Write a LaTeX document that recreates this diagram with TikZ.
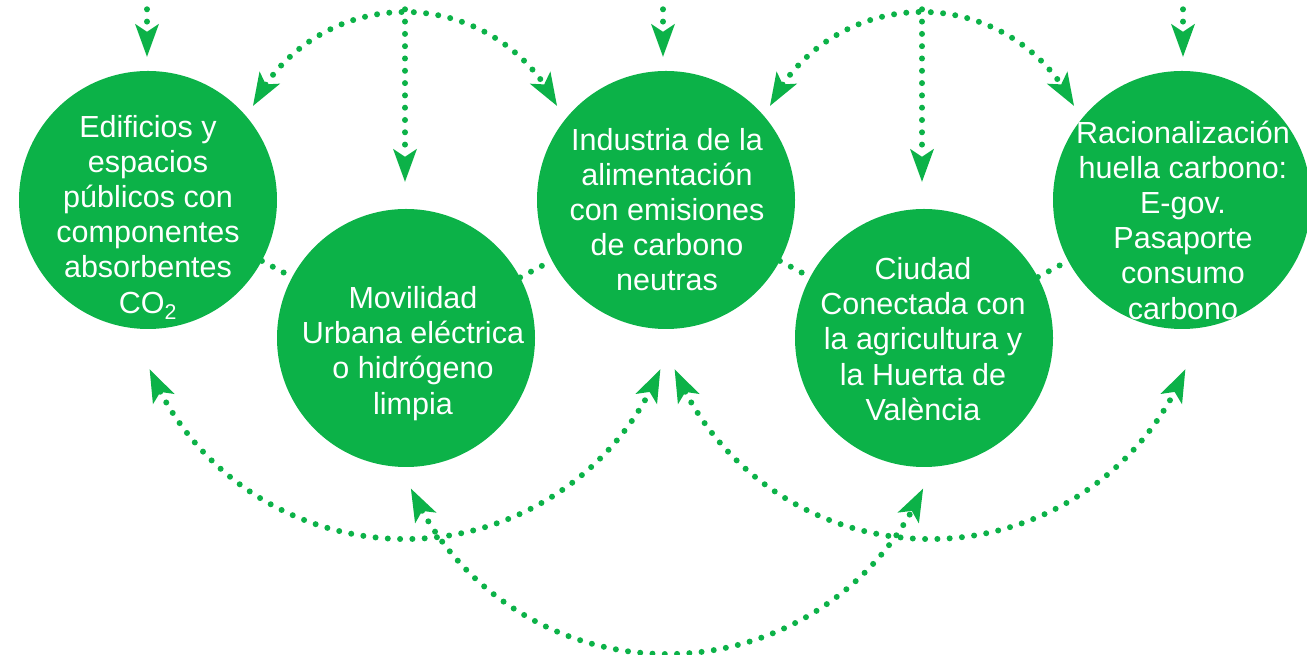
\documentclass[tikz,border=0pt]{standalone}
\usepackage{fontspec}
\setmainfont{Liberation Sans}
\usetikzlibrary{arrows.meta,bending}
\definecolor{vg}{RGB}{12,178,72}
\begin{document}
\begin{tikzpicture}[x=1pt,y=1pt,
  bub/.style={circle, fill=vg, minimum size=258pt, inner sep=0pt},
  lbl/.style={text=white, align=center, inner sep=0pt, anchor=north, font=\fontsize{30.5}{35.2}\selectfont},
  dotl/.style={draw=vg, line width=6pt, line cap=round, dash pattern=on 0pt off 12.3pt},
  tip/.style={-{Stealth[length=33pt,width=24pt,inset=8pt,line width=0pt]}},
  tips/.style={{Stealth[length=33pt,width=24pt,inset=8pt,line width=0pt]}-{Stealth[length=33pt,width=24pt,inset=8pt,line width=0pt]}}
]
\useasboundingbox (0,0) rectangle (1307,655);

% circles
\node[bub] (b1) at (148,455) {};
\node[bub] (b2) at (406,317) {};
\node[bub] (b3) at (666,455) {};
\node[bub] (b4) at (924,317) {};
\node[bub] (b5) at (1182,455) {};

% dotted links between neighbouring circles
\draw[dotl] (b1) -- (b2);
\draw[dotl] (b2) -- (b3);
\draw[dotl] (b3) -- (b4);
\draw[dotl] (b4) -- (b5);

% labels
\node[lbl] (t1) at (148,548) {\rule{0pt}{30pt}Edificios y\\espacios\\públicos con\\componentes\\absorbentes\\CO\textsubscript{2}};
\node[lbl] (t2) at (413,376.7) {\rule{0pt}{30pt}Movilidad\\Urbana eléctrica\\o hidrógeno\\limpia};
\node[lbl] (t3) at (667,535) {\rule{0pt}{30pt}Industria de la\\alimentación\\con emisiones\\de carbono\\neutras};
\node[lbl] (t4) at (923,405.7) {\rule{0pt}{30pt}Ciudad\\Conectada con\\la agricultura y\\la Huerta de\\València};
\node[lbl] (t5) at (1183,542) {\rule{0pt}{30pt}Racionalización\\huella carbono:\\E-gov.\\Pasaporte\\consumo\\carbono};

% vertical arrows from the top
\coordinate (s1) at (147,658);
\coordinate (s2) at (405,658);
\coordinate (s3) at (663,658);
\coordinate (s4) at (922,658);
\coordinate (s5) at (1183,658);
\draw[dotl,tip] (s1) -- ([xshift=-1pt,yshift=14pt]b1.north);
\draw[dotl,tip] (s2) -- ([xshift=-1pt,yshift=27pt]b2.north);
\draw[dotl,tip] (s3) -- ([xshift=-3pt,yshift=14pt]b3.north);
\draw[dotl,tip] (s4) -- ([xshift=-2pt,yshift=27pt]b4.north);
\draw[dotl,tip] (s5) -- ([xshift=1pt,yshift=14pt]b5.north);

% arc centres
\coordinate (ct1) at (405,473);
\coordinate (ct2) at (922,473);
\coordinate (cb1) at (405,393);
\coordinate (cb2) at (930,393);
\coordinate (cb3) at (667,282);

% top arcs
\draw[dotl,tips] (ct1) ++(153.4:170) arc[start angle=153.4, end angle=26.6, radius=170];
\draw[dotl,tips] (ct2) ++(153.4:170) arc[start angle=153.4, end angle=26.6, radius=170];

% bottom arcs
\draw[dotl,tips] (cb1) ++(202.8:277) arc[start angle=202.8, end angle=337.2, radius=277];
\draw[dotl,tips] (cb2) ++(202.8:277) arc[start angle=202.8, end angle=337.2, radius=277];
\draw[dotl,tips] (cb3) ++(204.3:281) arc[start angle=204.3, end angle=335.7, radius=281];
\end{tikzpicture}
\end{document}
